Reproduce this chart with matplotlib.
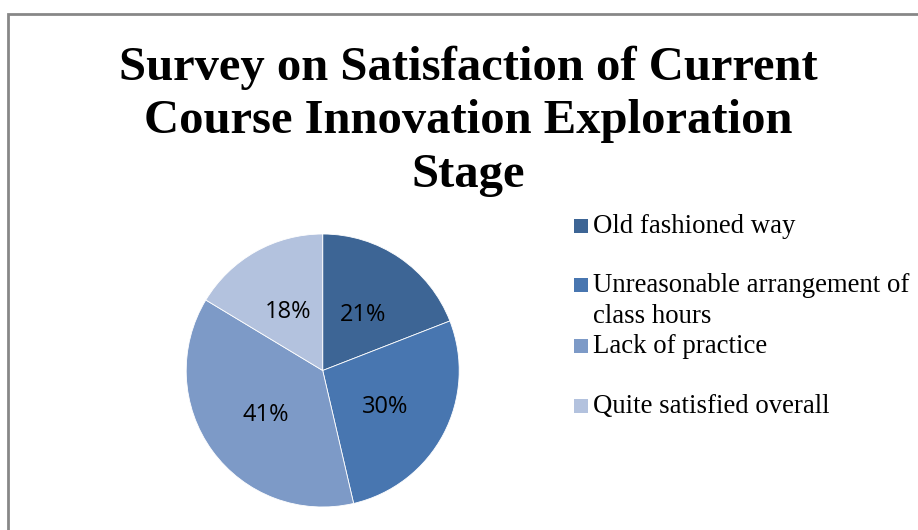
import matplotlib.pyplot as plt
from matplotlib.patches import Rectangle

categories = ["Old fashioned way", "Unreasonable arrangement of\nclass hours",
              "Lack of practice", "Quite satisfied overall"]
values = [21, 30, 41, 18]
colors = ["#3d6595", "#4876b0", "#7d9ac7", "#b3c2de"]
title = "Survey on Satisfaction of Current\nCourse Innovation Exploration\nStage"

W, H = 918, 530
fig = plt.figure(figsize=(W / 100, H / 100), dpi=100)

# gray frame round the chart area
fig.patches.append(Rectangle((8 / W, -0.05), 1.0, (H - 14) / H + 0.05,
                             transform=fig.transFigure, fill=False,
                             edgecolor="#878787", linewidth=2))

# va=baseline on multiline text -> baseline of the last line
fig.text(468 / W, 1 - 187 / H, title, ha="center", va="baseline",
         family="Liberation Serif", weight="bold", fontsize=35, linespacing=1.28)

# pie
cx, cy, r = 322.7, 370.5, 136.5
ax = fig.add_axes([(cx - r) / W, (H - cy - r) / H, 2 * r / W, 2 * r / H])
ax.pie(values, colors=colors, startangle=90, counterclock=False,
       labels=[f"{v}%" for v in values], labeldistance=0.52,
       wedgeprops=dict(edgecolor="white", linewidth=0.6),
       textprops=dict(family="Open Sans", fontsize=17, ha="center",
                      va="center_baseline"))
ax.set_xlim(-1, 1)
ax.set_ylim(-1, 1)
ax.set_aspect("equal")

# legend, placed by hand to keep Excel's spacing
baselines = [233, 292, 353, 413]
for name, col, y in zip(categories, colors, baselines):
    fig.patches.append(Rectangle((574 / W, 1 - y / H), 14 / W, 14 / H,
                                 transform=fig.transFigure, facecolor=col,
                                 edgecolor="none"))
    for i, line in enumerate(name.split("\n")):
        fig.text(593 / W, 1 - (y + 31 * i) / H, line, ha="left", va="baseline",
                 family="Liberation Serif", fontsize=19.3)

fig.savefig("out.png", dpi=100)
